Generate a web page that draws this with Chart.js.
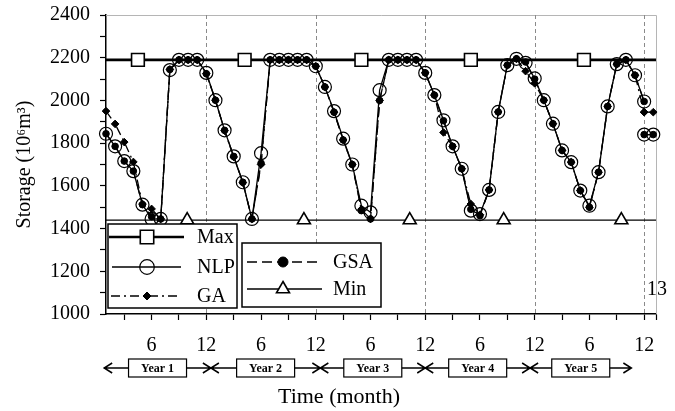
<!DOCTYPE html>
<html>
<head>
<meta charset="utf-8">
<script src="https://cdn.jsdelivr.net/npm/chart.js@4.4.1/dist/chart.umd.min.js"></script>
<style>
html, body { margin: 0; padding: 0; background: #fff; }
#wrap { width: 675px; height: 411px; }
</style>
</head>
<body>
<div id="wrap"><canvas id="storageChart" width="675" height="411"></canvas></div>
<script>
// month index over the 5 years
const months = [
  1, 2, 3, 4, 5, 6, 7, 8, 9, 10, 11, 12,
  13, 14, 15, 16, 17, 18, 19, 20, 21, 22, 23, 24,
  25, 26, 27, 28, 29, 30, 31, 32, 33, 34, 35, 36,
  37, 38, 39, 40, 41, 42, 43, 44, 45, 46, 47, 48,
  49, 50, 51, 52, 53, 54, 55, 56, 57, 58, 59, 60
];

const nlp = [
  1844, 1785, 1716, 1669, 1512, 1445, 1445, 2142, 2190, 2190, 2190, 2129,
  2001, 1860, 1738, 1617, 1445, 1753, 2190, 2190, 2190, 2190, 2190, 2160,
  2063, 1950, 1821, 1700, 1507, 1476, 2048, 2190, 2190, 2190, 2190, 2129,
  2025, 1907, 1785, 1680, 1484, 1468, 1581, 1946, 2165, 2195, 2176, 2103,
  2001, 1891, 1766, 1711, 1578, 1507, 1664, 1972, 2170, 2190, 2118, 1995
];
const gsa = [
  1844, 1785, 1716, 1669, 1512, 1456, 1445, 2145, 2190, 2190, 2190, 2125,
  2001, 1860, 1738, 1617, 1445, 1706, 2190, 2190, 2190, 2190, 2190, 2160,
  2063, 1945, 1815, 1700, 1484, 1445, 2000, 2190, 2190, 2190, 2190, 2129,
  2025, 1905, 1785, 1680, 1490, 1460, 1581, 1946, 2165, 2195, 2180, 2100,
  2001, 1891, 1766, 1711, 1578, 1500, 1664, 1972, 2170, 2190, 2118, 1995
];
const ga = [
  1950, 1890, 1805, 1712, 1515, 1492, 1445, 2145, 2190, 2190, 2190, 2125,
  2001, 1858, 1735, 1615, 1445, 1700, 2190, 2190, 2190, 2190, 2190, 2160,
  2063, 1945, 1815, 1700, 1490, 1445, 2000, 2190, 2190, 2190, 2190, 2129,
  2025, 1850, 1785, 1680, 1515, 1465, 1581, 1946, 2165, 2195, 2137, 2080,
  2001, 1891, 1766, 1711, 1578, 1500, 1664, 1972, 2170, 2190, 2118, 1945
];

// short extra piece at the end (month 13 of year 5)
const tailMonths = [60, 61];
const nlpTail = [1840, 1840];
const gsaTail = [1840, 1840];
const gaTail = [1945, 1945];

const maxStorage = 2190;
const minStorage = 1440;
const maxMarkMonths = [4.5, 16.2, 29, 41, 53.4];
const minMarkMonths = [9.9, 22.7, 34.3, 44.6, 57.5];

const xMax = 61.3;
const xTickMonths = [3, 6, 9, 12, 15, 18, 21, 24, 27, 30, 33, 36, 39, 42, 45, 48, 51, 54, 57, 60, 61.3];
const yearEndMonths = [12, 24, 36, 48, 60];
const yearLabels = ['Year 1', 'Year 2', 'Year 3', 'Year 4', 'Year 5'];
const yearBounds = [0.8, 12.5, 24.5, 36, 47.5, 58.6];

const serif = '"Liberation Serif", "Times New Roman", "DejaVu Serif", serif';

const pts = (xs, ys) => xs.map((m, i) => ({ x: m, y: ys[i] }));

function levelLine(level, marks) {
  const xs = [1, ...marks, xMax];
  return xs.map(m => ({ x: m, y: level }));
}
function markRadius(marks, r) {
  return [0, ...marks.map(() => r), 0];
}

function drawMarker(ctx, style, x, y, r, fill, lw) {
  ctx.beginPath();
  if (style === 'circle') {
    ctx.arc(x, y, r, 0, Math.PI * 2);
  } else if (style === 'rect') {
    const s = r * Math.SQRT1_2;
    ctx.rect(x - s, y - s, 2 * s, 2 * s);
  } else if (style === 'rectRot') {
    ctx.moveTo(x, y - r); ctx.lineTo(x + r, y); ctx.lineTo(x, y + r); ctx.lineTo(x - r, y);
    ctx.closePath();
  } else if (style === 'triangle') {
    ctx.moveTo(x, y - r);
    ctx.lineTo(x + r * Math.sin(Math.PI * 2 / 3), y - r * Math.cos(Math.PI * 2 / 3));
    ctx.lineTo(x - r * Math.sin(Math.PI * 2 / 3), y - r * Math.cos(Math.PI * 2 / 3));
    ctx.closePath();
  }
  ctx.fillStyle = fill;
  ctx.fill();
  ctx.lineWidth = lw;
  ctx.strokeStyle = '#000';
  ctx.stroke();
}

const framePlugin = {
  id: 'frame',
  beforeDraw(chart) {
    const ctx = chart.ctx;
    ctx.save();
    ctx.fillStyle = '#fff';
    ctx.fillRect(0, 0, chart.width, chart.height);
    ctx.restore();
  },
  beforeDatasetsDraw(chart) {
    const { ctx, chartArea: a, scales: { x } } = chart;
    ctx.save();
    ctx.strokeStyle = '#b5b5b5';
    ctx.lineWidth = 1;
    ctx.beginPath();
    ctx.moveTo(a.left, a.top + 0.5);
    ctx.lineTo(a.right + 0.5, a.top + 0.5);
    ctx.lineTo(a.right + 0.5, a.bottom);
    ctx.stroke();

    ctx.setLineDash([4, 3]);
    ctx.strokeStyle = '#8a8a8a';
    yearEndMonths.forEach(m => {
      const px = Math.round(x.getPixelForValue(m)) + 0.5;
      ctx.beginPath();
      ctx.moveTo(px, a.top);
      ctx.lineTo(px, a.bottom);
      ctx.stroke();
    });
    ctx.restore();
  },
  afterDraw(chart) {
    const { ctx, chartArea: a, scales: { x, y } } = chart;
    const ds = chart.data.datasets;
    ctx.save();

    // "13" at the end of the axis
    ctx.fillStyle = '#000';
    ctx.font = '20px ' + serif;
    ctx.textAlign = 'center';
    ctx.textBaseline = 'middle';
    ctx.fillText('13', x.getPixelForValue(xMax) + 1, y.getPixelForValue(1112));

    // legend boxes
    function row(d, x0, x1, xm, yy, xt, r) {
      ctx.save();
      ctx.strokeStyle = '#000';
      ctx.lineWidth = d.borderWidth;
      ctx.setLineDash(d.borderDash || []);
      ctx.beginPath();
      ctx.moveTo(x0, yy);
      ctx.lineTo(x1, yy);
      ctx.stroke();
      ctx.setLineDash([]);
      drawMarker(ctx, d.pointStyle, xm, yy, r, d.pointBackgroundColor, d.pointBorderWidth);
      ctx.fillStyle = '#000';
      ctx.font = '20px ' + serif;
      ctx.textAlign = 'left';
      ctx.textBaseline = 'middle';
      ctx.fillText(d.label, xt, yy + 1);
      ctx.restore();
    }
    const byLabel = l => ds.find(d => d.label === l);
    ctx.lineWidth = 1.5;
    ctx.strokeStyle = '#000';
    ctx.fillStyle = '#fff';
    ctx.fillRect(108, 224, 129, 84);
    ctx.strokeRect(108, 224, 129, 84);
    ctx.fillRect(242, 243, 139, 64);
    ctx.strokeRect(242, 243, 139, 64);
    row(byLabel('Max'), 109, 184, 147, 237, 197, 9.5);
    row(byLabel('NLP'), 112, 181, 147, 267, 197, 7.3);
    row(byLabel('GA'), 111, 181, 147, 296, 197, 4);
    row(byLabel('GSA'), 247, 322, 283, 262, 333, 5);
    row(byLabel('Min'), 247, 322, 283, 289, 333, 7.5);

    // year arrows below the axis
    const yb = a.bottom + 54;
    ctx.strokeStyle = '#000';
    ctx.lineWidth = 1.5;
    for (let k = 0; k < yearLabels.length; k++) {
      const x0 = x.getPixelForValue(yearBounds[k]);
      const x1 = x.getPixelForValue(yearBounds[k + 1]);
      ctx.beginPath();
      ctx.moveTo(x0, yb); ctx.lineTo(x1, yb);
      ctx.moveTo(x0 + 8, yb - 5); ctx.lineTo(x0, yb); ctx.lineTo(x0 + 8, yb + 5);
      ctx.moveTo(x1 - 8, yb - 5); ctx.lineTo(x1, yb); ctx.lineTo(x1 - 8, yb + 5);
      ctx.stroke();
      const cx = (x0 + x1) / 2;
      ctx.fillStyle = '#fff';
      ctx.fillRect(cx - 29, yb - 9, 58, 18);
      ctx.lineWidth = 1.2;
      ctx.strokeRect(cx - 29, yb - 9, 58, 18);
      ctx.lineWidth = 1.5;
      ctx.fillStyle = '#000';
      ctx.font = 'bold 12px ' + serif;
      ctx.textAlign = 'center';
      ctx.textBaseline = 'middle';
      ctx.fillText(yearLabels[k], cx, yb + 1);
    }

    // axis title
    ctx.font = '22px ' + serif;
    ctx.fillStyle = '#000';
    ctx.textAlign = 'center';
    ctx.textBaseline = 'middle';
    ctx.fillText('Time (month)', 339, a.bottom + 83);
    ctx.restore();
  }
};

const ctx = document.getElementById('storageChart').getContext('2d');
new Chart(ctx, {
  type: 'line',
  data: {
    datasets: [
      {
        label: 'GSA',
        data: [...pts(months, gsa), { x: 60, y: null }, ...pts(tailMonths, gsaTail)],
        borderColor: '#000', borderWidth: 1.3, borderDash: [10, 5],
        pointStyle: 'circle', pointRadius: 3.3, pointBackgroundColor: '#000',
        pointBorderColor: '#000', pointBorderWidth: 1, order: 0
      },
      {
        label: 'GA',
        data: [...pts(months, ga), ...pts(tailMonths, gaTail)],
        borderColor: '#000', borderWidth: 1.3, borderDash: [9, 4, 2, 4],
        pointStyle: 'rectRot', pointRadius: 3.8, pointBackgroundColor: '#000',
        pointBorderColor: '#000', pointBorderWidth: 1, order: 1
      },
      {
        label: 'NLP',
        data: [...pts(months, nlp), { x: 60, y: null }, ...pts(tailMonths, nlpTail)],
        borderColor: '#000', borderWidth: 1.3,
        pointStyle: 'circle', pointRadius: 6.5, pointBackgroundColor: 'rgba(255,255,255,0)',
        pointBorderColor: '#000', pointBorderWidth: 1.2, order: 2
      },
      {
        label: 'Max',
        data: levelLine(maxStorage, maxMarkMonths),
        borderColor: '#000', borderWidth: 2.6,
        pointStyle: 'rect', pointRadius: markRadius(maxMarkMonths, 9), pointBackgroundColor: '#fff',
        pointBorderColor: '#000', pointBorderWidth: 1.6, order: 3
      },
      {
        label: 'Min',
        data: levelLine(minStorage, minMarkMonths),
        borderColor: '#000', borderWidth: 1.3,
        pointStyle: 'triangle', pointRadius: markRadius(minMarkMonths, 7.5), pointBackgroundColor: '#fff',
        pointBorderColor: '#000', pointBorderWidth: 1.6, order: 4
      }
    ]
  },
  options: {
    responsive: false,
    animation: false,
    devicePixelRatio: 1,
    clip: false,
    layout: { padding: { left: 13, top: 15, right: 19, bottom: 39 } },
    elements: { line: { tension: 0 } },
    plugins: { legend: { display: false }, tooltip: { enabled: false } },
    scales: {
      x: {
        type: 'linear', min: 1, max: xMax,
        afterBuildTicks: s => { s.ticks = xTickMonths.map(v => ({ value: v })); },
        ticks: {
          autoSkip: false, maxRotation: 0, color: '#000', padding: 14,
          font: { family: serif, size: 20 },
          callback: v => (v % 12 === 6 ? '6' : (v % 12 === 0 ? '12' : ''))
        },
        grid: { drawOnChartArea: false, tickLength: 6, tickColor: '#000', tickWidth: 1.2 },
        border: { color: '#000', width: 1.5 }
      },
      y: {
        min: 1000, max: 2400,
        afterFit: s => { s.paddingTop = 0; s.paddingBottom = 0; },
        ticks: {
          stepSize: 100, autoSkip: false, color: '#000', padding: 10,
          font: { family: serif, size: 20 },
          callback: v => (v % 200 === 0 ? String(v) : '')
        },
        grid: { drawOnChartArea: false, tickLength: 6, tickColor: '#000', tickWidth: 1.2 },
        border: { color: '#000', width: 1.5 },
        title: {
          display: true, text: 'Storage (10⁶m³)', color: '#000',
          font: { family: serif, size: 20 }, padding: { top: 0, bottom: 3 }
        }
      }
    }
  },
  plugins: [framePlugin]
});
</script>
</body>
</html>
